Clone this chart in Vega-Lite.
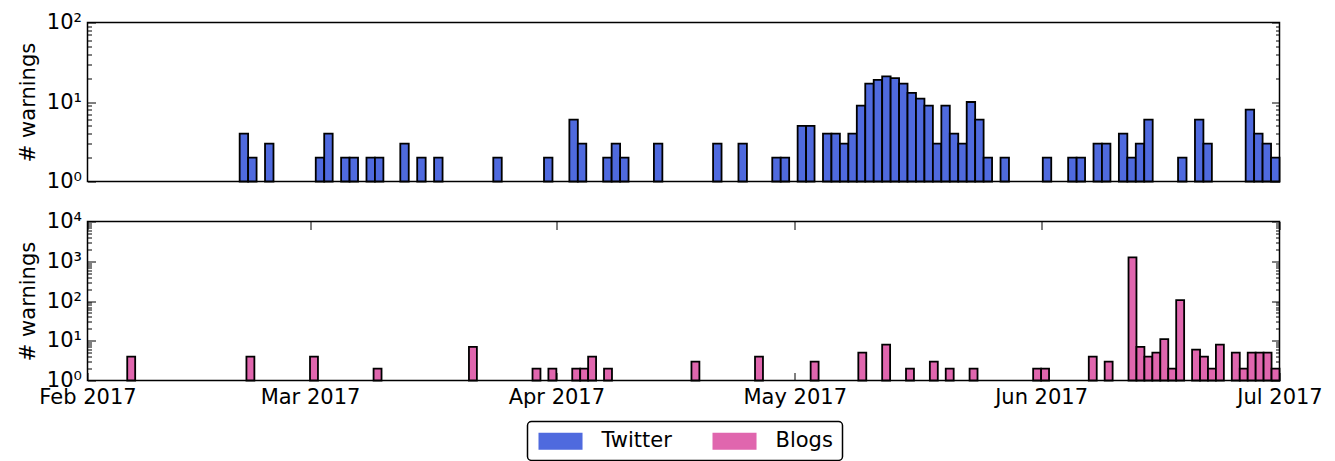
{
  "$schema": "https://vega.github.io/schema/vega-lite/v6.json",
  "background": "white",
  "padding": {"left": 16.5, "top": 10.5, "right": 5, "bottom": 2},
  "bounds": "flush",
  "spacing": 40,
  "config": {
    "font": "DejaVu Sans",
    "view": {"stroke": "black", "strokeWidth": 1.5},
    "axis": {"domainColor": "black", "domainWidth": 1.5, "tickColor": "black", "tickWidth": 1, "labelColor": "black", "titleColor": "black", "labelFont": "DejaVu Sans", "titleFont": "DejaVu Sans", "labelFontSize": 21, "titleFontSize": 21, "titleFontWeight": "normal", "grid": false},
    "legend": {"strokeColor": "black", "strokeWidth": 1.5, "cornerRadius": 4, "fillColor": "white", "labelFont": "DejaVu Sans", "labelFontSize": 21, "labelColor": "black"}
  },
  "datasets": {
    "twitter": [
      {"start": "2017-02-20T03:34", "end": "2017-02-21T05:06", "count": 4, "source": "Twitter"},
      {"start": "2017-02-21T05:06", "end": "2017-02-22T06:38", "count": 2, "source": "Twitter"},
      {"start": "2017-02-23T08:10", "end": "2017-02-24T09:42", "count": 3, "source": "Twitter"},
      {"start": "2017-03-01T17:22", "end": "2017-03-02T18:54", "count": 2, "source": "Twitter"},
      {"start": "2017-03-02T18:54", "end": "2017-03-03T20:26", "count": 4, "source": "Twitter"},
      {"start": "2017-03-04T21:57", "end": "2017-03-05T23:29", "count": 2, "source": "Twitter"},
      {"start": "2017-03-05T23:29", "end": "2017-03-07T01:01", "count": 2, "source": "Twitter"},
      {"start": "2017-03-08T02:33", "end": "2017-03-09T04:05", "count": 2, "source": "Twitter"},
      {"start": "2017-03-09T04:05", "end": "2017-03-10T05:37", "count": 2, "source": "Twitter"},
      {"start": "2017-03-12T08:41", "end": "2017-03-13T10:13", "count": 3, "source": "Twitter"},
      {"start": "2017-03-14T11:45", "end": "2017-03-15T13:17", "count": 2, "source": "Twitter"},
      {"start": "2017-03-16T14:49", "end": "2017-03-17T16:20", "count": 2, "source": "Twitter"},
      {"start": "2017-03-24T01:32", "end": "2017-03-25T03:04", "count": 2, "source": "Twitter"},
      {"start": "2017-03-30T10:43", "end": "2017-03-31T12:15", "count": 2, "source": "Twitter"},
      {"start": "2017-04-02T15:19", "end": "2017-04-03T16:51", "count": 6, "source": "Twitter"},
      {"start": "2017-04-03T16:51", "end": "2017-04-04T18:23", "count": 3, "source": "Twitter"},
      {"start": "2017-04-06T21:27", "end": "2017-04-07T22:59", "count": 2, "source": "Twitter"},
      {"start": "2017-04-07T22:59", "end": "2017-04-09T00:31", "count": 3, "source": "Twitter"},
      {"start": "2017-04-09T00:31", "end": "2017-04-10T02:03", "count": 2, "source": "Twitter"},
      {"start": "2017-04-13T06:38", "end": "2017-04-14T08:10", "count": 3, "source": "Twitter"},
      {"start": "2017-04-20T17:22", "end": "2017-04-21T18:54", "count": 3, "source": "Twitter"},
      {"start": "2017-04-23T21:57", "end": "2017-04-24T23:29", "count": 3, "source": "Twitter"},
      {"start": "2017-04-28T04:05", "end": "2017-04-29T05:37", "count": 2, "source": "Twitter"},
      {"start": "2017-04-29T05:37", "end": "2017-04-30T07:09", "count": 2, "source": "Twitter"},
      {"start": "2017-05-01T08:41", "end": "2017-05-02T10:13", "count": 5, "source": "Twitter"},
      {"start": "2017-05-02T10:13", "end": "2017-05-03T11:45", "count": 5, "source": "Twitter"},
      {"start": "2017-05-04T13:17", "end": "2017-05-05T14:49", "count": 4, "source": "Twitter"},
      {"start": "2017-05-05T14:49", "end": "2017-05-06T16:20", "count": 4, "source": "Twitter"},
      {"start": "2017-05-06T16:20", "end": "2017-05-07T17:52", "count": 3, "source": "Twitter"},
      {"start": "2017-05-07T17:52", "end": "2017-05-08T19:24", "count": 4, "source": "Twitter"},
      {"start": "2017-05-08T19:24", "end": "2017-05-09T20:56", "count": 9, "source": "Twitter"},
      {"start": "2017-05-09T20:56", "end": "2017-05-10T22:28", "count": 17, "source": "Twitter"},
      {"start": "2017-05-10T22:28", "end": "2017-05-12T00:00", "count": 19, "source": "Twitter"},
      {"start": "2017-05-12T00:00", "end": "2017-05-13T01:32", "count": 21, "source": "Twitter"},
      {"start": "2017-05-13T01:32", "end": "2017-05-14T03:04", "count": 20, "source": "Twitter"},
      {"start": "2017-05-14T03:04", "end": "2017-05-15T04:36", "count": 17, "source": "Twitter"},
      {"start": "2017-05-15T04:36", "end": "2017-05-16T06:08", "count": 13, "source": "Twitter"},
      {"start": "2017-05-16T06:08", "end": "2017-05-17T07:40", "count": 11, "source": "Twitter"},
      {"start": "2017-05-17T07:40", "end": "2017-05-18T09:11", "count": 9, "source": "Twitter"},
      {"start": "2017-05-18T09:11", "end": "2017-05-19T10:43", "count": 3, "source": "Twitter"},
      {"start": "2017-05-19T10:43", "end": "2017-05-20T12:15", "count": 9, "source": "Twitter"},
      {"start": "2017-05-20T12:15", "end": "2017-05-21T13:47", "count": 4, "source": "Twitter"},
      {"start": "2017-05-21T13:47", "end": "2017-05-22T15:19", "count": 3, "source": "Twitter"},
      {"start": "2017-05-22T15:19", "end": "2017-05-23T16:51", "count": 10, "source": "Twitter"},
      {"start": "2017-05-23T16:51", "end": "2017-05-24T18:23", "count": 6, "source": "Twitter"},
      {"start": "2017-05-24T18:23", "end": "2017-05-25T19:55", "count": 2, "source": "Twitter"},
      {"start": "2017-05-26T21:27", "end": "2017-05-27T22:59", "count": 2, "source": "Twitter"},
      {"start": "2017-06-01T05:06", "end": "2017-06-02T06:38", "count": 2, "source": "Twitter"},
      {"start": "2017-06-04T09:42", "end": "2017-06-05T11:14", "count": 2, "source": "Twitter"},
      {"start": "2017-06-05T11:14", "end": "2017-06-06T12:46", "count": 2, "source": "Twitter"},
      {"start": "2017-06-07T14:18", "end": "2017-06-08T15:50", "count": 3, "source": "Twitter"},
      {"start": "2017-06-08T15:50", "end": "2017-06-09T17:22", "count": 3, "source": "Twitter"},
      {"start": "2017-06-10T18:54", "end": "2017-06-11T20:26", "count": 4, "source": "Twitter"},
      {"start": "2017-06-11T20:26", "end": "2017-06-12T21:57", "count": 2, "source": "Twitter"},
      {"start": "2017-06-12T21:57", "end": "2017-06-13T23:29", "count": 3, "source": "Twitter"},
      {"start": "2017-06-13T23:29", "end": "2017-06-15T01:01", "count": 6, "source": "Twitter"},
      {"start": "2017-06-18T05:37", "end": "2017-06-19T07:09", "count": 2, "source": "Twitter"},
      {"start": "2017-06-20T08:41", "end": "2017-06-21T10:13", "count": 6, "source": "Twitter"},
      {"start": "2017-06-21T10:13", "end": "2017-06-22T11:45", "count": 3, "source": "Twitter"},
      {"start": "2017-06-26T17:52", "end": "2017-06-27T19:24", "count": 8, "source": "Twitter"},
      {"start": "2017-06-27T19:24", "end": "2017-06-28T20:56", "count": 4, "source": "Twitter"},
      {"start": "2017-06-28T20:56", "end": "2017-06-29T22:28", "count": 3, "source": "Twitter"},
      {"start": "2017-06-29T22:28", "end": "2017-07-01T00:00", "count": 2, "source": "Twitter"}
    ],
    "blogs": [
      {"start": "2017-02-06T00:00", "end": "2017-02-07T00:00", "count": 4, "source": "Blogs"},
      {"start": "2017-02-21T00:00", "end": "2017-02-22T00:00", "count": 4, "source": "Blogs"},
      {"start": "2017-03-01T00:00", "end": "2017-03-02T00:00", "count": 4, "source": "Blogs"},
      {"start": "2017-03-09T00:00", "end": "2017-03-10T00:00", "count": 2, "source": "Blogs"},
      {"start": "2017-03-21T00:00", "end": "2017-03-22T00:00", "count": 7, "source": "Blogs"},
      {"start": "2017-03-29T00:00", "end": "2017-03-30T00:00", "count": 2, "source": "Blogs"},
      {"start": "2017-03-31T00:00", "end": "2017-04-01T00:00", "count": 2, "source": "Blogs"},
      {"start": "2017-04-03T00:00", "end": "2017-04-04T00:00", "count": 2, "source": "Blogs"},
      {"start": "2017-04-04T00:00", "end": "2017-04-05T00:00", "count": 2, "source": "Blogs"},
      {"start": "2017-04-05T00:00", "end": "2017-04-06T00:00", "count": 4, "source": "Blogs"},
      {"start": "2017-04-07T00:00", "end": "2017-04-08T00:00", "count": 2, "source": "Blogs"},
      {"start": "2017-04-18T00:00", "end": "2017-04-19T00:00", "count": 3, "source": "Blogs"},
      {"start": "2017-04-26T00:00", "end": "2017-04-27T00:00", "count": 4, "source": "Blogs"},
      {"start": "2017-05-03T00:00", "end": "2017-05-04T00:00", "count": 3, "source": "Blogs"},
      {"start": "2017-05-09T00:00", "end": "2017-05-10T00:00", "count": 5, "source": "Blogs"},
      {"start": "2017-05-12T00:00", "end": "2017-05-13T00:00", "count": 8, "source": "Blogs"},
      {"start": "2017-05-15T00:00", "end": "2017-05-16T00:00", "count": 2, "source": "Blogs"},
      {"start": "2017-05-18T00:00", "end": "2017-05-19T00:00", "count": 3, "source": "Blogs"},
      {"start": "2017-05-20T00:00", "end": "2017-05-21T00:00", "count": 2, "source": "Blogs"},
      {"start": "2017-05-23T00:00", "end": "2017-05-24T00:00", "count": 2, "source": "Blogs"},
      {"start": "2017-05-31T00:00", "end": "2017-06-01T00:00", "count": 2, "source": "Blogs"},
      {"start": "2017-06-01T00:00", "end": "2017-06-02T00:00", "count": 2, "source": "Blogs"},
      {"start": "2017-06-07T00:00", "end": "2017-06-08T00:00", "count": 4, "source": "Blogs"},
      {"start": "2017-06-09T00:00", "end": "2017-06-10T00:00", "count": 3, "source": "Blogs"},
      {"start": "2017-06-12T00:00", "end": "2017-06-13T00:00", "count": 1250, "source": "Blogs"},
      {"start": "2017-06-13T00:00", "end": "2017-06-14T00:00", "count": 7, "source": "Blogs"},
      {"start": "2017-06-14T00:00", "end": "2017-06-15T00:00", "count": 4, "source": "Blogs"},
      {"start": "2017-06-15T00:00", "end": "2017-06-16T00:00", "count": 5, "source": "Blogs"},
      {"start": "2017-06-16T00:00", "end": "2017-06-17T00:00", "count": 11, "source": "Blogs"},
      {"start": "2017-06-17T00:00", "end": "2017-06-18T00:00", "count": 2, "source": "Blogs"},
      {"start": "2017-06-18T00:00", "end": "2017-06-19T00:00", "count": 105, "source": "Blogs"},
      {"start": "2017-06-20T00:00", "end": "2017-06-21T00:00", "count": 6, "source": "Blogs"},
      {"start": "2017-06-21T00:00", "end": "2017-06-22T00:00", "count": 4, "source": "Blogs"},
      {"start": "2017-06-22T00:00", "end": "2017-06-23T00:00", "count": 2, "source": "Blogs"},
      {"start": "2017-06-23T00:00", "end": "2017-06-24T00:00", "count": 8, "source": "Blogs"},
      {"start": "2017-06-25T00:00", "end": "2017-06-26T00:00", "count": 5, "source": "Blogs"},
      {"start": "2017-06-26T00:00", "end": "2017-06-27T00:00", "count": 2, "source": "Blogs"},
      {"start": "2017-06-27T00:00", "end": "2017-06-28T00:00", "count": 5, "source": "Blogs"},
      {"start": "2017-06-28T00:00", "end": "2017-06-29T00:00", "count": 5, "source": "Blogs"},
      {"start": "2017-06-29T00:00", "end": "2017-06-30T00:00", "count": 5, "source": "Blogs"},
      {"start": "2017-06-30T00:00", "end": "2017-07-01T00:00", "count": 2, "source": "Blogs"}
    ]
  },
  "vconcat": [
    {
      "width": 1192,
      "height": 159,
      "data": {"name": "twitter"},
      "layer": [
        {
          "mark": {"type": "bar", "stroke": "black", "strokeWidth": 1.8},
          "encoding": {
            "x": {"field": "start", "type": "temporal", "scale": {"domain": [{"year": 2017, "month": 2, "date": 1}, {"year": 2017, "month": 7, "date": 1}]}, "axis": {"labels": false, "ticks": false, "title": null, "domain": false}},
            "x2": {"field": "end"},
            "y": {"field": "count", "type": "quantitative", "scale": {"type": "log", "domain": [1, 100]},
                  "axis": {"title": "# warnings", "values": [1,2,3,4,5,6,7,8,9,10,20,30,40,50,60,70,80,90,100],
                           "labelExpr": "datum.value === 1 ? '10⁰' : datum.value === 10 ? '10¹' : datum.value === 100 ? '10²' : ''",
                           "tickSize": {"condition": {"test": "datum.value === 1 || datum.value === 10 || datum.value === 100", "value": -8}, "value": -4},
                           "labelPadding": 14, "titlePadding": 8, "domain": false, "labelBound": false}},
            "y2": {"datum": 1},
            "color": {"field": "source", "type": "nominal", "scale": {"domain": ["Twitter", "Blogs"], "range": ["#4f6ade", "#e066ae"]},
                      "legend": {"title": null, "orient": "none", "legendX": 440, "legendY": 399, "direction": "horizontal", "columns": 2, "padding": 9,
                                 "symbolType": "M-1,-1H4.18V1H-1Z", "symbolSize": 289, "symbolStrokeWidth": 0, "labelOffset": 44, "columnPadding": 38}}
          }
        },
        {
          "mark": {"type": "bar", "opacity": 0},
          "encoding": {
            "x": {"field": "start", "type": "temporal"},
            "x2": {"field": "end"},
            "y": {"field": "count", "type": "quantitative",
                  "axis": {"orient": "right", "title": null, "labels": false, "values": [1,2,3,4,5,6,7,8,9,10,20,30,40,50,60,70,80,90,100],
                           "tickSize": {"condition": {"test": "datum.value === 1 || datum.value === 10 || datum.value === 100", "value": -8}, "value": -4},
                           "domain": false}},
            "y2": {"datum": 1}
          }
        }
      ],
      "resolve": {"axis": {"y": "independent"}}
    },
    {
      "width": 1192,
      "height": 159,
      "data": {"name": "blogs"},
      "layer": [
        {
          "mark": {"type": "bar", "stroke": "black", "strokeWidth": 1.8},
          "encoding": {
            "x": {"field": "start", "type": "temporal", "scale": {"domain": [{"year": 2017, "month": 2, "date": 1}, {"year": 2017, "month": 7, "date": 1}]},
                  "axis": {"title": null, "format": "%b %Y", "values": [{"year": 2017, "month": 2, "date": 1}, {"year": 2017, "month": 3, "date": 1}, {"year": 2017, "month": 4, "date": 1}, {"year": 2017, "month": 5, "date": 1}, {"year": 2017, "month": 6, "date": 1}, {"year": 2017, "month": 7, "date": 1}],
                           "tickSize": -8, "labelPadding": 14, "domain": false, "labelFlush": false, "labelOverlap": false}},
            "x2": {"field": "end"},
            "y": {"field": "count", "type": "quantitative", "scale": {"type": "log", "domain": [1, 10000]},
                  "axis": {"title": "# warnings", "values": [1,2,3,4,5,6,7,8,9,10,20,30,40,50,60,70,80,90,100,200,300,400,500,600,700,800,900,1000,2000,3000,4000,5000,6000,7000,8000,9000,10000],
                           "labelExpr": "datum.value === 1 ? '10⁰' : datum.value === 10 ? '10¹' : datum.value === 100 ? '10²' : datum.value === 1000 ? '10³' : datum.value === 10000 ? '10⁴' : ''",
                           "tickSize": {"condition": {"test": "datum.value === 1 || datum.value === 10 || datum.value === 100 || datum.value === 1000 || datum.value === 10000", "value": -8}, "value": -4},
                           "labelPadding": 14, "titlePadding": 8, "domain": false, "labelBound": false, "labelOverlap": false}},
            "y2": {"datum": 1},
            "color": {"field": "source", "type": "nominal"}
          }
        },
        {
          "mark": {"type": "bar", "opacity": 0},
          "encoding": {
            "x": {"field": "start", "type": "temporal",
                  "axis": {"orient": "top", "title": null, "labels": false, "values": [{"year": 2017, "month": 2, "date": 1}, {"year": 2017, "month": 3, "date": 1}, {"year": 2017, "month": 4, "date": 1}, {"year": 2017, "month": 5, "date": 1}, {"year": 2017, "month": 6, "date": 1}, {"year": 2017, "month": 7, "date": 1}],
                           "tickSize": -8, "domain": false}},
            "x2": {"field": "end"},
            "y": {"field": "count", "type": "quantitative",
                  "axis": {"orient": "right", "title": null, "labels": false, "values": [1,2,3,4,5,6,7,8,9,10,20,30,40,50,60,70,80,90,100,200,300,400,500,600,700,800,900,1000,2000,3000,4000,5000,6000,7000,8000,9000,10000],
                           "tickSize": {"condition": {"test": "datum.value === 1 || datum.value === 10 || datum.value === 100 || datum.value === 1000 || datum.value === 10000", "value": -8}, "value": -4},
                           "domain": false}},
            "y2": {"datum": 1}
          }
        }
      ],
      "resolve": {"axis": {"x": "independent", "y": "independent"}}
    }
  ]
}
